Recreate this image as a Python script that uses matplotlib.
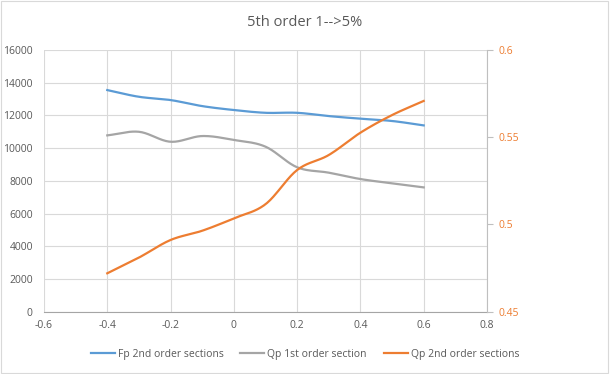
import numpy as np
import matplotlib.pyplot as plt

x = [-0.4, -0.3, -0.2, -0.1, 0.0, 0.1, 0.2, 0.3, 0.4, 0.5, 0.6]
fp_2nd = [13550, 13140, 12940, 12570, 12330, 12160, 12160, 11960, 11800, 11660, 11390]
qp_1st = [10780, 11000, 10390, 10740, 10500, 10090, 8830, 8500, 8110, 7850, 7600]
qp_2nd = [0.472, 0.481, 0.4911, 0.4964, 0.5035, 0.5116, 0.5312, 0.5398, 0.5526, 0.5627, 0.5708]

BLUE = '#5B9BD5'
GRAY = '#A5A5A5'
ORANGE = '#ED7D31'
TXT = '#595959'
GRID = '#D9D9D9'

plt.rcParams['font.family'] = ['Open Sans', 'DejaVu Sans']


def smooth(xs, ys, n=20):
    # catmull-rom like excel "smoothed line"
    xs = np.asarray(xs, float)
    ys = np.asarray(ys, float)
    px = np.concatenate([[2 * xs[0] - xs[1]], xs, [2 * xs[-1] - xs[-2]]])
    py = np.concatenate([[2 * ys[0] - ys[1]], ys, [2 * ys[-1] - ys[-2]]])
    ox, oy = [], []
    t = np.linspace(0, 1, n, endpoint=False)
    for i in range(1, len(px) - 2):
        for p, o in ((px, ox), (py, oy)):
            p0, p1, p2, p3 = p[i - 1], p[i], p[i + 1], p[i + 2]
            o.extend(0.5 * (2 * p1 + (-p0 + p2) * t
                            + (2 * p0 - 5 * p1 + 4 * p2 - p3) * t ** 2
                            + (-p0 + 3 * p1 - 3 * p2 + p3) * t ** 3))
    ox.append(xs[-1])
    oy.append(ys[-1])
    return ox, oy


fig = plt.figure(figsize=(6.1, 3.74), dpi=100)
ax = fig.add_axes([0.0721, 0.1666, 0.7262, 0.6997])
ax2 = ax.twinx()

l1, = ax.plot(*smooth(x, fp_2nd), color=BLUE, lw=1.6, label='Fp 2nd order sections')
l2, = ax.plot(*smooth(x, qp_1st), color=GRAY, lw=1.6, label='Qp 1st order section')
l3, = ax2.plot(*smooth(x, qp_2nd), color=ORANGE, lw=1.6, label='Qp 2nd order sections')

ax.set_xlim(-0.6, 0.8)
ax.set_ylim(0, 16000)
ax2.set_ylim(0.45, 0.6)
ax.set_xticks(np.arange(-0.6, 0.81, 0.2))
ax.set_xticklabels(['-0.6', '-0.4', '-0.2', '0', '0.2', '0.4', '0.6', '0.8'])
ax.set_yticks(range(0, 16001, 2000))
ax2.set_yticks([0.45, 0.5, 0.55, 0.6])
ax2.set_yticklabels(['0.45', '0.5', '0.55', '0.6'])

ax.grid(True, color=GRID, lw=0.8)
ax.set_axisbelow(True)
for a in (ax, ax2):
    for s in a.spines.values():
        s.set_visible(False)
ax.spines['bottom'].set_visible(True)
ax.spines['bottom'].set_color(GRAY)
ax2.spines['right'].set_visible(True)
ax2.spines['right'].set_color('#BFBFBF')

ax.tick_params(axis='x', colors=TXT, labelsize=7.5, length=0, pad=6)
ax.tick_params(axis='y', colors=TXT, labelsize=7.5, length=0, pad=8)
ax2.tick_params(axis='y', colors='#BFBFBF', labelcolor=ORANGE, labelsize=7.5,
                length=4, direction='out', pad=4)

fig.text(0.5, 0.94, '5th order 1-->5%', ha='center', va='center',
         fontsize=10.5, color=TXT)

fig.legend(handles=[l1, l2, l3], loc='center', bbox_to_anchor=(0.5, 0.053),
           ncol=3, frameon=False, fontsize=7.5, labelcolor=TXT,
           handlelength=2.3, handletextpad=0.3, columnspacing=1.6)

fig.patches.append(plt.Rectangle((0.002, 0.003), 0.995, 0.994, transform=fig.transFigure,
                                 fill=False, edgecolor=GRID, lw=0.8))

fig.savefig('out.png', dpi=100)
